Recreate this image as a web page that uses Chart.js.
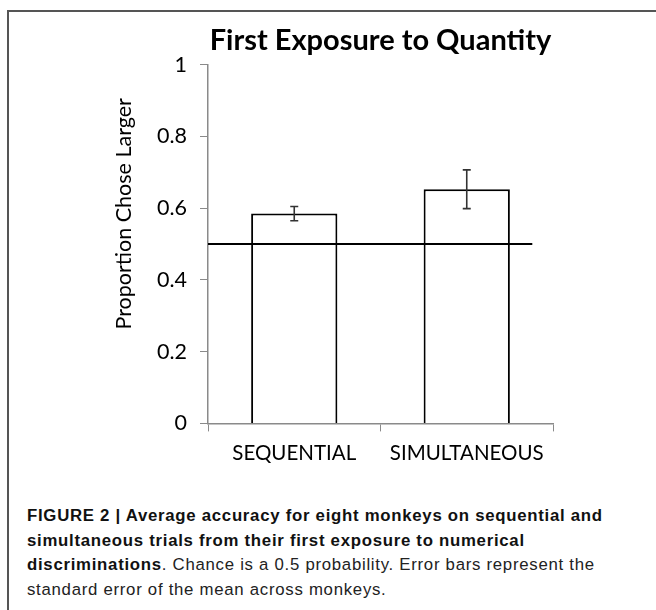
<!DOCTYPE html>
<html lang="en">
<head>
  <meta charset="UTF-8" />
  <title>First Exposure to Quantity</title>
  <script src="https://cdn.jsdelivr.net/npm/chart.js"></script>
  <style>
    body { margin: 0; background: #fff; width: 656px; height: 610px; overflow: hidden; position: relative; }
    .frame { position: absolute; left: 7px; top: 10px; width: 700px; height: 700px;
             border-left: 2px solid #555; border-top: 2px solid #555; }
    .chart-box { position: absolute; left: 0; top: 0; width: 656px; height: 480px; }
    .caption { position: absolute; left: 27px; top: 504px; width: 625px; white-space: nowrap;
               font-family: "Liberation Sans", Arial, sans-serif; font-size: 16.8px;
               letter-spacing: 0.72px; line-height: 24.5px; color: #222; }
    .caption b { color: #111; }
  </style>
</head>
<body>
  <div class="frame"></div>
  <div class="chart-box"><canvas id="chart" width="656" height="480"></canvas></div>
  <div class="caption">
    <b>FIGURE 2 | Average accuracy for eight monkeys on sequential and<br>
    simultaneous trials from their first exposure to numerical<br>
    discriminations</b>. Chance is a 0.5 probability. Error bars represent the<br>
    standard error of the mean across monkeys.
  </div>

  <script>
    const categories = ['SEQUENTIAL', 'SIMULTANEOUS'];
    const proportions = [0.585, 0.653];
    const stdErrors = [0.02, 0.054];
    const chanceLevel = 0.5;
    // chance line runs from the axis to about 1.38 on the category index scale
    const chanceSpan = [-0.5, 1.38];
    const yTicks = [0, 0.2, 0.4, 0.6, 0.8, 1];

    const axisGray = '#8a8a8a';
    const fontFam = 'Lato, "Open Sans", sans-serif';

    // chance line + error bars, both placed through the chart's scales
    const overlays = {
      id: 'overlays',
      afterDatasetsDraw(chart) {
        const meta = chart.getDatasetMeta(0);
        const x = chart.scales.x;
        const y = chart.scales.y;
        const ctx = chart.ctx;
        ctx.save();

        ctx.strokeStyle = '#000';
        ctx.lineWidth = 2;
        const cy = y.getPixelForValue(chanceLevel);
        ctx.beginPath();
        ctx.moveTo(x.getPixelForValue(chanceSpan[0]), cy);
        ctx.lineTo(x.getPixelForValue(chanceSpan[1]), cy);
        ctx.stroke();

        ctx.strokeStyle = '#333';
        ctx.lineWidth = 1.6;
        meta.data.forEach((bar, i) => {
          const top = y.getPixelForValue(proportions[i] + stdErrors[i]);
          const bot = y.getPixelForValue(proportions[i] - stdErrors[i]);
          ctx.beginPath();
          ctx.moveTo(bar.x, top); ctx.lineTo(bar.x, bot);
          ctx.moveTo(bar.x - 4, top); ctx.lineTo(bar.x + 4, top);
          ctx.moveTo(bar.x - 4, bot); ctx.lineTo(bar.x + 4, bot);
          ctx.stroke();
        });
        ctx.restore();
      }
    };

    new Chart(document.getElementById('chart'), {
      type: 'bar',
      data: {
        labels: categories,
        datasets: [{
          data: proportions,
          backgroundColor: '#fff',
          borderColor: '#000',
          borderWidth: 2,
          categoryPercentage: 1,
          barPercentage: 0.5
        }]
      },
      options: {
        responsive: false,
        animation: false,
        layout: { padding: { left: 100, right: 103, top: 0, bottom: 4 } },
        plugins: {
          legend: { display: false },
          tooltip: { enabled: false },
          title: {
            display: true,
            text: 'First Exposure to Quantity',
            fullSize: false,
            color: '#000',
            font: { family: fontFam, size: 29, weight: 'bold' },
            padding: { top: 23, bottom: 7 }
          }
        },
        scales: {
          x: {
            grid: { drawOnChartArea: false, color: axisGray, tickLength: 8, offset: true },
            border: { color: axisGray, width: 1.5 },
            ticks: { color: '#000', font: { family: fontFam, size: 20.5 }, padding: 10 }
          },
          y: {
            min: 0,
            max: 1,
            afterFit(scale) { scale.width = 108; },
            afterBuildTicks(scale) { scale.ticks = yTicks.map(v => ({ value: v })); },
            grid: { drawOnChartArea: false, color: axisGray, tickLength: 8 },
            border: { color: axisGray, width: 1.5 },
            ticks: {
              color: '#000',
              font: { family: fontFam, size: 21.5 },
              padding: 13,
              callback: v => String(v)
            },
            title: {
              display: true,
              // leading spaces lift the label a little above the axis middle, as in the original
              text: '           Proportion Chose Larger',
              color: '#000',
              font: { family: fontFam, size: 21.5 },
              padding: { top: 11, bottom: 0 }
            }
          }
        }
      },
      plugins: [overlays]
    });
  </script>
</body>
</html>
